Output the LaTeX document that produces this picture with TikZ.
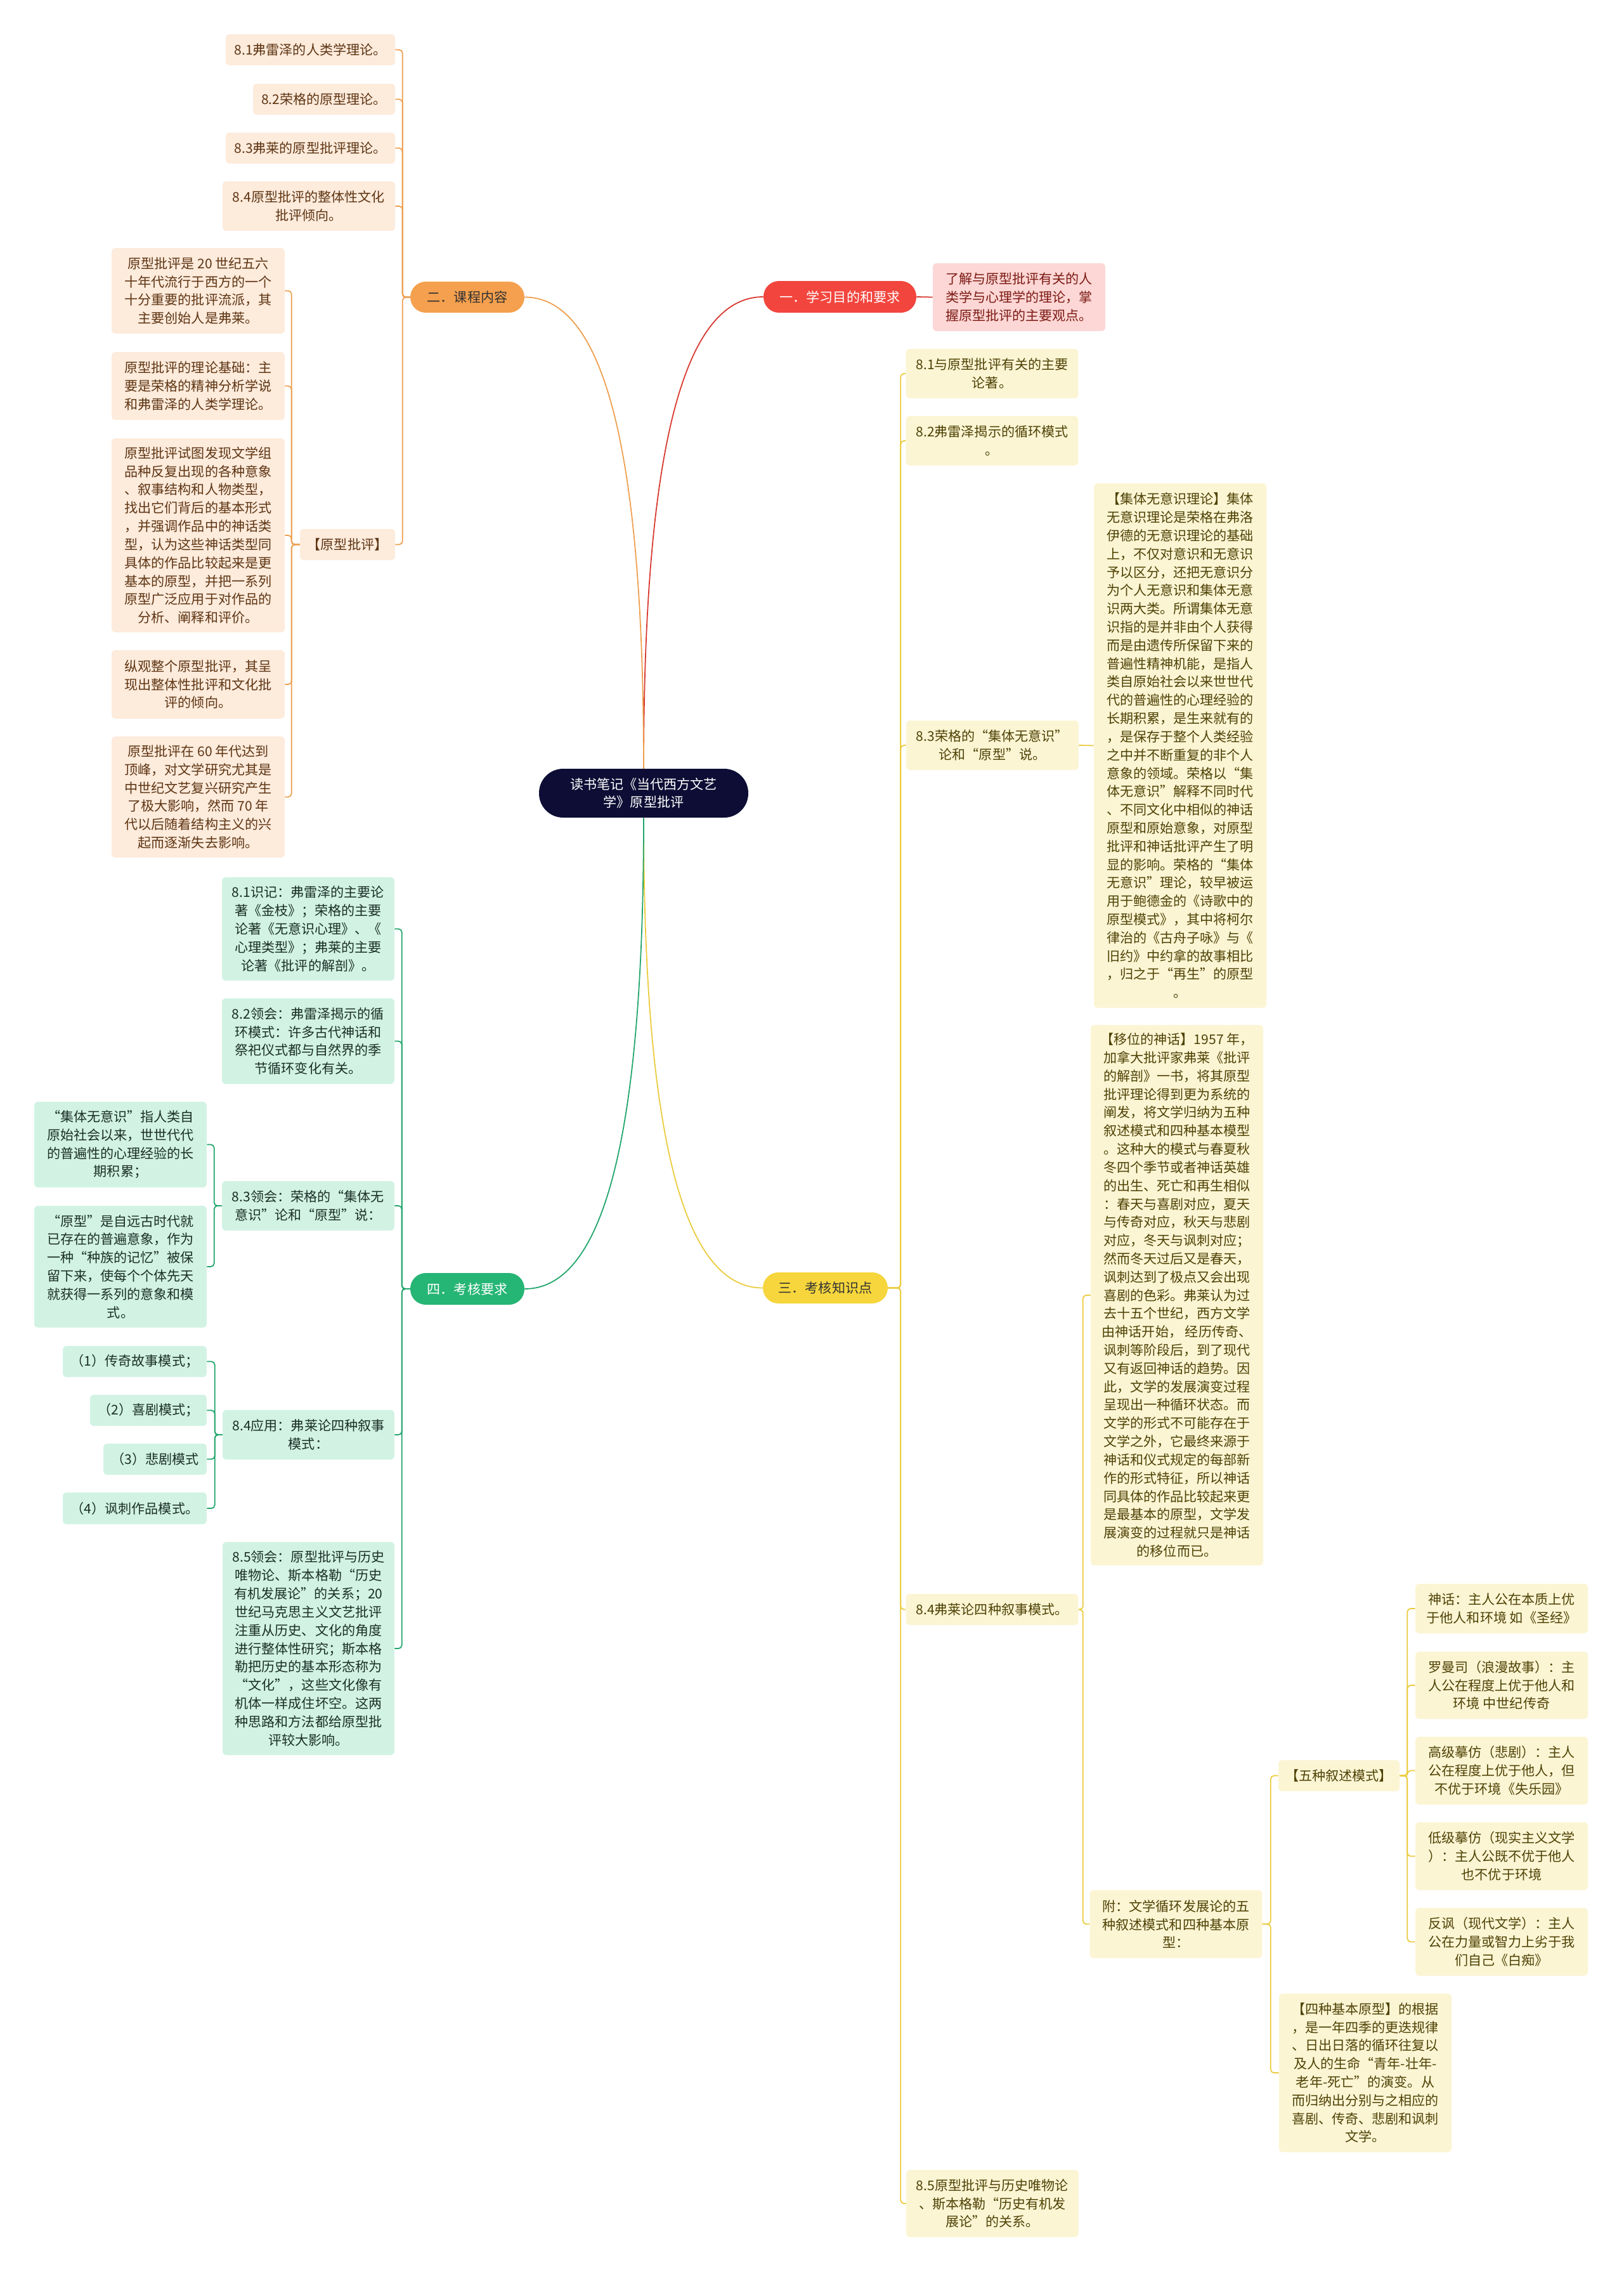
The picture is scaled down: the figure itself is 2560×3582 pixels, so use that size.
\documentclass[tikz,border=0pt]{standalone}
\usepackage{fontspec}
\setmainfont{Noto Sans CJK SC}
\usepackage{tikz}

\definecolor{rootFill}{HTML}{0D0D35}
\definecolor{orMain}{HTML}{F5A04E}
\definecolor{orLine}{HTML}{EE9F4E}
\definecolor{orLeaf}{HTML}{FDEBDC}
\definecolor{orText}{HTML}{5E3513}
\definecolor{rdMain}{HTML}{F2453D}
\definecolor{rdLine}{HTML}{D8382F}
\definecolor{rdLeaf}{HTML}{FCD7D5}
\definecolor{rdText}{HTML}{7D1A14}
\definecolor{ylMain}{HTML}{F6D63C}
\definecolor{ylLine}{HTML}{EBCB3C}
\definecolor{ylLeaf}{HTML}{FCF5D4}
\definecolor{ylText}{HTML}{4E4205}
\definecolor{grMain}{HTML}{25B574}
\definecolor{grLine}{HTML}{20A56B}
\definecolor{grLeaf}{HTML}{D2F3E4}
\definecolor{grText}{HTML}{1B2F27}

\begin{document}
\begin{tikzpicture}[
  x=0.02cm,
  y=-0.02cm,
  every node/.style={
    font=\fontsize{12pt}{16.4pt}\selectfont
  },
  rootbox/.style={
    fill=rootFill,
    text=white,
    align=center,
    inner sep=0pt,
    rounded corners=0.76cm,
    minimum width=6.6cm,
    minimum height=1.54cm
  },
  branch/.style={
    align=center,
    inner sep=0pt,
    rounded corners=0.49cm,
    minimum width=3.6cm,
    minimum height=0.98cm
  },
  leaf/.style={
    align=center,
    inner sep=0pt,
    rounded corners=0.12cm,
    minimum width=5.44cm,
    minimum height=0.98cm
  },
  orleaf/.style={leaf, fill=orLeaf, text=orText},
  rdleaf/.style={leaf, fill=rdLeaf, text=rdText},
  ylleaf/.style={leaf, fill=ylLeaf, text=ylText},
  grleaf/.style={leaf, fill=grLeaf, text=grText},
  orlink/.style={draw=orLine, line width=1pt, rounded corners=3pt},
  rdlink/.style={draw=rdLine, line width=1pt, rounded corners=3pt},
  yllink/.style={draw=ylLine, line width=1pt, rounded corners=3pt},
  grlink/.style={draw=grLine, line width=1pt, rounded corners=3pt}
]

\fill[white] (0,0) rectangle (2560,3582);
\useasboundingbox (0,0) rectangle (2560,3582);

\node[rootbox] (root) at (1015,1250.5) {读书笔记《当代西方文艺\\学》原型批评};

% --- 一 ---
\node[branch,fill=rdMain,text=white,minimum width=4.82cm,minimum height=1cm] (yi) at (1324.5,468)
  {一．学习目的和要求};
\node[rdleaf,minimum height=2.14cm] (mubiao) at (1607,468.5)
  {了解与原型批评有关的人\\类学与心理学的理论，掌\\握原型批评的主要观点。};

% --- 二 ---
\node[branch,fill=orMain,text=black!80] (er) at (737,468.5) {二．课程内容};
\node[orleaf,minimum width=5.34cm] (ok1) at (489.5,78.5) {8.1弗雷泽的人类学理论。};
\node[orleaf,minimum width=4.48cm] (ok2) at (511,156.5) {8.2荣格的原型理论。};
\node[orleaf,minimum width=5.34cm] (ok3) at (489.5,233.5) {8.3弗莱的原型批评理论。};
\node[orleaf,minimum height=1.56cm] (ok4) at (487,325) {8.4原型批评的整体性文化\\批评倾向。};
\node[orleaf,minimum width=3cm] (yxpp) at (548,858.5) {【原型批评】};

\node[orleaf,minimum width=5.46cm,minimum height=2.7cm] (pa) at (312.5,458.5)
  {原型批评是 20 世纪五六\\十年代流行于西方的一个\\十分重要的批评流派，其\\主要创始人是弗莱。};
\node[orleaf,minimum width=5.46cm,minimum height=2.14cm] (pb) at (312.5,608.5)
  {原型批评的理论基础：主\\要是荣格的精神分析学说\\和弗雷泽的人类学理论。};
\node[orleaf,minimum width=5.46cm,minimum height=6.12cm] (pc) at (312.5,844)
  {原型批评试图发现文学组\\品种反复出现的各种意象\\、叙事结构和人物类型，\\找出它们背后的基本形式\\，并强调作品中的神话类\\型，认为这些神话类型同\\具体的作品比较起来是更\\基本的原型，并把一系列\\原型广泛应用于对作品的\\分析、阐释和评价。};
\node[orleaf,minimum width=5.46cm,minimum height=2.16cm] (pd) at (312.5,1079)
  {纵观整个原型批评，其呈\\现出整体性批评和文化批\\评的倾向。};
\node[orleaf,minimum width=5.46cm,minimum height=3.82cm] (pe) at (312.5,1256.5)
  {原型批评在 60 年代达到\\顶峰，对文学研究尤其是\\中世纪文艺复兴研究产生\\了极大影响，然而 70 年\\代以后随着结构主义的兴\\起而逐渐失去影响。};

% --- 三 ---
\node[branch,fill=ylMain,text=black!80,minimum width=3.94cm] (san) at (1301.5,2030.5) {三．考核知识点};
\node[ylleaf,minimum height=1.56cm] (y1) at (1564.5,589) {8.1与原型批评有关的主要\\论著。};
\node[ylleaf,minimum height=1.56cm] (y2) at (1564.5,695) {8.2弗雷泽揭示的循环模式\\。};
\node[ylleaf,minimum height=1.56cm] (y3) at (1565,1175) {8.3荣格的“集体无意识”\\论和“原型”说。};
\node[ylleaf,minimum height=16.54cm] (jiti) at (1861,1175.5)
  {【集体无意识理论】集体\\无意识理论是荣格在弗洛\\伊德的无意识理论的基础\\上，不仅对意识和无意识\\予以区分，还把无意识分\\为个人无意识和集体无意\\识两大类。所谓集体无意\\识指的是并非由个人获得\\而是由遗传所保留下来的\\普遍性精神机能，是指人\\类自原始社会以来世世代\\代的普遍性的心理经验的\\长期积累，是生来就有的\\，是保存于整个人类经验\\之中并不断重复的非个人\\意象的领域。荣格以“集\\体无意识”解释不同时代\\、不同文化中相似的神话\\原型和原始意象，对原型\\批评和神话批评产生了明\\显的影响。荣格的“集体\\无意识”理论，较早被运\\用于鲍德金的《诗歌中的\\原型模式》，其中将柯尔\\律治的《古舟子咏》与《\\旧约》中约拿的故事相比\\，归之于“再生”的原型\\。};
\node[ylleaf] (y4) at (1564.5,2537.5) {8.4弗莱论四种叙事模式。};
\node[ylleaf,minimum height=17.04cm] (yiwei) at (1856,2042)
  {【移位的神话】1957 年，\\加拿大批评家弗莱《批评\\的解剖》一书，将其原型\\批评理论得到更为系统的\\阐发，将文学归纳为五种\\叙述模式和四种基本模型\\。这种大的模式与春夏秋\\冬四个季节或者神话英雄\\的出生、死亡和再生相似\\：春天与喜剧对应，夏天\\与传奇对应，秋天与悲剧\\对应，冬天与讽刺对应；\\然而冬天过后又是春天，\\讽刺达到了极点又会出现\\喜剧的色彩。弗莱认为过\\去十五个世纪，西方文学\\由神话开始， 经历传奇、\\讽刺等阶段后，到了现代\\又有返回神话的趋势。因\\此，文学的发展演变过程\\呈现出一种循环状态。而\\文学的形式不可能存在于\\文学之外，它最终来源于\\神话和仪式规定的每部新\\作的形式特征，所以神话\\同具体的作品比较起来更\\是最基本的原型，文学发\\展演变的过程就只是神话\\的移位而已。};
\node[ylleaf,minimum height=2.14cm] (fu) at (1854.5,3033.5)
  {附：文学循环发展论的五\\种叙述模式和四种基本原\\型：};
\node[ylleaf,minimum width=3.82cm] (wuzhong) at (2111.5,2799.5) {【五种叙述模式】};
\node[ylleaf,minimum height=5cm] (sizhong) at (2153,3268)
  {【四种基本原型】的根据\\，是一年四季的更迭规律\\、日出日落的循环往复以\\及人的生命“青年-壮年-\\老年-死亡”的演变。从\\而归纳出分别与之相应的\\喜剧、传奇、悲剧和讽刺\\文学。};
\node[ylleaf,minimum height=1.56cm] (m1) at (2368,2536)
  {神话：主人公在本质上优\\于他人和环境 如《圣经》};
\node[ylleaf,minimum height=2.12cm] (m2) at (2368,2657)
  {罗曼司（浪漫故事）：主\\人公在程度上优于他人和\\环境 中世纪传奇};
\node[ylleaf,minimum height=2.14cm] (m3) at (2368,2791.5)
  {高级摹仿（悲剧）：主人\\公在程度上优于他人，但\\不优于环境《失乐园》};
\node[ylleaf,minimum height=2.14cm] (m4) at (2368,2926.5)
  {低级摹仿（现实主义文学\\）：主人公既不优于他人\\也不优于环境};
\node[ylleaf,minimum height=2.14cm] (m5) at (2368,3061.5)
  {反讽（现代文学）：主人\\公在力量或智力上劣于我\\们自己《白痴》};
\node[ylleaf,minimum height=2.12cm] (y5) at (1565,3474)
  {8.5原型批评与历史唯物论\\、斯本格勒“历史有机发\\展论”的关系。};

% --- 四 ---
\node[branch,fill=grMain,text=white,minimum height=1cm] (si) at (737,2032) {四．考核要求};
\node[grleaf,minimum height=3.26cm] (g1) at (486,1464.5)
  {8.1识记：弗雷泽的主要论\\著《金枝》；荣格的主要\\论著《无意识心理》、《\\心理类型》；弗莱的主要\\论著《批评的解剖》。};
\node[grleaf,minimum height=2.7cm] (g2) at (486,1641.5)
  {8.2领会：弗雷泽揭示的循\\环模式：许多古代神话和\\祭祀仪式都与自然界的季\\节循环变化有关。};
\node[grleaf,minimum height=1.56cm] (g3) at (486,1901)
  {8.3领会：荣格的“集体无\\意识”论和“原型”说：};
\node[grleaf,minimum height=2.7cm] (g3a) at (190,1804.5)
  {“集体无意识”指人类自\\原始社会以来，世世代代\\的普遍性的心理经验的长\\期积累；};
\node[grleaf,minimum height=3.84cm] (g3b) at (190,1997)
  {“原型”是自远古时代就\\已存在的普遍意象，作为\\一种“种族的记忆”被保\\留下来，使每个个体先天\\就获得一系列的意象和模\\式。};
\node[grleaf,minimum width=5.42cm,minimum height=1.56cm] (g4) at (486.5,2262)
  {8.4应用：弗莱论四种叙事\\模式：};
\node[grleaf,minimum width=4.54cm] (g4a) at (212.5,2146.5) {（1）传奇故事模式；};
\node[grleaf,minimum width=3.68cm] (g4b) at (234,2223.5) {（2）喜剧模式；};
\node[grleaf,minimum width=3.26cm] (g4c) at (244.5,2300.5) {（3）悲剧模式};
\node[grleaf,minimum width=4.54cm,minimum height=1cm] (g4d) at (212.5,2378) {（4）讽刺作品模式。};
\node[grleaf,minimum width=5.42cm,minimum height=6.72cm] (g5) at (486.5,2599)
  {8.5领会：原型批评与历史\\唯物论、斯本格勒“历史\\有机发展论”的关系；20\\世纪马克思主义文艺批评\\注重从历史、文化的角度\\进行整体性研究；斯本格\\勒把历史的基本形态称为\\“文化”，这些文化像有\\机体一样成住坏空。这两\\种思路和方法都给原型批\\评较大影响。};

% --- main branches ---
\draw[rdlink] (root.north) .. controls (1015,740) and (1070,468) .. (yi.west);
\draw[orlink] (root.north) .. controls (1015,740) and (960,468.5) .. (er.east);
\draw[yllink] (root.south) .. controls (1015,1760) and (1070,2030.5) .. (san.west);
\draw[grlink] (root.south) .. controls (1015,1760) and (960,2032) .. (si.east);

% --- sub links ---
\draw[rdlink] (yi.east) -- (mubiao.west);

\foreach \k in {ok1,ok2,ok3,ok4,yxpp}
  \draw[orlink] (er.west) -- ++(-12,0) |- (\k.east);
\foreach \k in {pa,pb,pc,pd,pe}
  \draw[orlink] (yxpp.west) -- ++(-13,0) |- (\k.east);

\foreach \k in {y1,y2,y3,y4,y5}
  \draw[yllink] (san.east) -- ++(20,0) |- (\k.west);
\draw[yllink] (y3.east) -- (jiti.west);
\foreach \k in {yiwei,fu}
  \draw[yllink] (y4.east) -- ++(7,0) |- (\k.west);
\foreach \k in {wuzhong,sizhong}
  \draw[yllink] (fu.east) -- ++(13,0) |- (\k.west);
\foreach \k in {m1,m2,m3,m4,m5}
  \draw[yllink] (wuzhong.east) -- ++(12,0) |- (\k.west);

\foreach \k in {g1,g2,g3,g4,g5}
  \draw[grlink] (si.west) -- ++(-13,0) |- (\k.east);
\foreach \k in {g3a,g3b}
  \draw[grlink] (g3.west) -- ++(-12,0) |- (\k.east);
\foreach \k in {g4a,g4b,g4c,g4d}
  \draw[grlink] (g4.west) -- ++(-12,0) |- (\k.east);

\end{tikzpicture}
\end{document}
